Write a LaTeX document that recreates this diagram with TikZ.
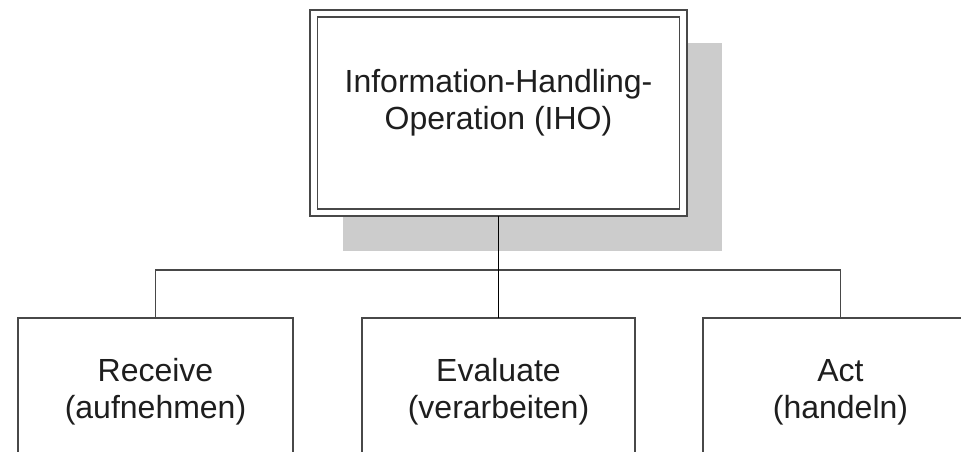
\documentclass[tikz,border=0pt]{standalone}
\usepackage{fontspec}
\setmainfont{Liberation Sans}
\definecolor{boxgray}{RGB}{72,72,72}
\definecolor{txt}{RGB}{30,30,30}
\definecolor{shadowgray}{RGB}{204,204,204}
\begin{document}
\begin{tikzpicture}[x=1pt,y=-1pt,
  box/.style={draw=boxgray, line width=1.8pt, fill=white, anchor=north west,
    inner sep=0pt, outer sep=0pt, rectangle},
  inbox/.style={draw=boxgray, line width=1.8pt, anchor=north west,
    inner sep=0pt, outer sep=0pt, rectangle},
  lbl/.style={font=\fontsize{32}{37}\selectfont, text=txt, align=center,
    inner sep=0pt, anchor=base},
  conn/.style={draw=boxgray, line width=1.8pt},
  mainconn/.style={draw=black, line width=1.8pt}]
\useasboundingbox (0,0) rectangle (961,452);
\clip (0,0) rectangle (961,452);
% shadow of the top box
\fill[shadowgray] (343,43) rectangle (722,251);
% top box (double border)
\node[box, minimum width=377pt, minimum height=206pt] (top) at (310,10) {};
\node[inbox, minimum width=362pt, minimum height=192pt] (topin) at (317.5,17) {};
\node[lbl] (toplbl) at (498.5,129) {Information-Handling-\\Operation (IHO)};
% bottom boxes
\node[box, minimum width=275pt, minimum height=200pt] (rec) at (18,318) {};
\node[box, minimum width=273pt, minimum height=200pt] (eval) at (362,318) {};
\node[box, minimum width=275pt, minimum height=200pt] (act) at (703,318) {};
\node[lbl] (reclbl) at (155.5,418) {Receive\\(aufnehmen)};
\node[lbl] (evallbl) at (498.5,418) {Evaluate\\(verarbeiten)};
\node[lbl] (actlbl) at (840.5,418) {Act\\(handeln)};
% connectors
\coordinate (bus) at (0,270);
\draw[conn] (rec.north) |- (bus -| act.north) -- (act.north);
\draw[mainconn] (top.south) -- (eval.north);
\end{tikzpicture}
\end{document}
